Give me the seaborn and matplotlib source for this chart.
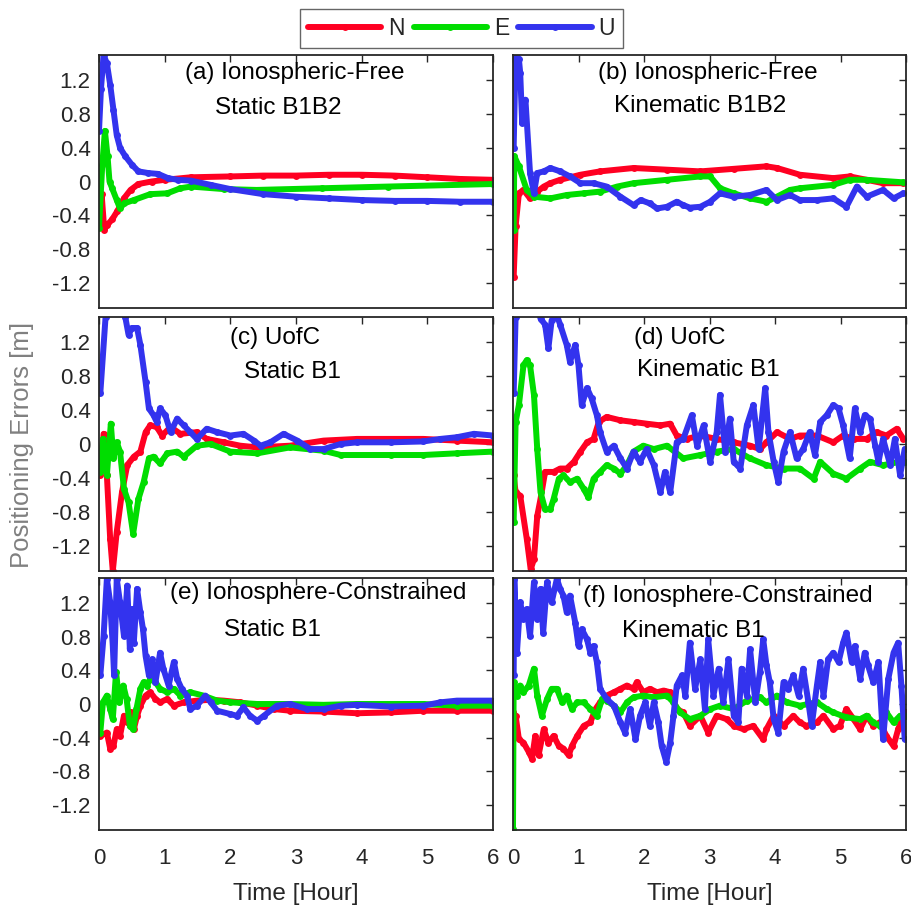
import numpy as np
import pandas as pd
import matplotlib
matplotlib.use("Agg")
import matplotlib.pyplot as plt
from matplotlib.lines import Line2D
import seaborn as sns

# ---------------- data (time in hours, error in metres) ----------------
COMPONENTS = ["N", "E", "U"]
COLORS = {"N": "#FF0022", "E": "#00DD00", "U": "#3333EE"}
X_TICKS = [0, 1, 2, 3, 4, 5, 6]
Y_TICKS = [-1.2, -0.8, -0.4, 0, 0.4, 0.8, 1.2]
Y_TICKLABELS = ["-1.2", "-0.8", "-0.4", "0", "0.4", "0.8", "1.2"]

# (a) Ionospheric-Free Static B1B2
a_t_n = [0, 0.04, 0.08, 0.12, 0.2, 0.28, 0.38, 0.48, 0.6, 0.8, 1.0, 1.4, 2.0, 2.5, 3.0, 3.5, 4.0, 4.5, 5.0, 5.5, 6.0]
a_n = [-0.45, -0.15, -0.57, -0.52, -0.45, -0.35, -0.2, -0.1, -0.03, 0.0, 0.02, 0.05, 0.06, 0.07, 0.07, 0.08, 0.08, 0.07, 0.05, 0.03, 0.02]
a_t_e = [0, 0.05, 0.09, 0.13, 0.16, 0.2, 0.27, 0.32, 0.38, 0.53, 0.78, 1.04, 1.24, 1.4, 1.9, 2.4, 3.4, 4.4, 6.0]
a_e = [-0.55, 0.2, 0.6, 0.3, 0.0, -0.08, -0.22, -0.32, -0.26, -0.22, -0.15, -0.14, -0.08, -0.06, -0.09, -0.1, -0.08, -0.06, -0.03]
a_t_u = [0, 0.03, 0.07, 0.12, 0.17, 0.22, 0.27, 0.32, 0.4, 0.5, 0.6, 0.75, 0.9, 1.05, 1.2, 1.4, 1.7, 2.0, 2.5, 3.0, 3.5, 4.0, 4.5, 5.0, 5.5, 6.0]
a_u = [0.6, 1.1, 1.5, 1.4, 1.15, 0.85, 0.55, 0.40, 0.30, 0.20, 0.12, 0.10, 0.09, 0.04, 0.02, 0.01, -0.04, -0.09, -0.15, -0.18, -0.20, -0.22, -0.23, -0.23, -0.24, -0.24]

# (b) Ionospheric-Free Kinematic B1B2
b_t_n = [0.01, 0.04, 0.09, 0.16, 0.26, 0.37, 0.47, 0.57, 0.72, 1.03, 1.33, 1.84, 2.35, 2.86, 3.37, 3.87, 4.03, 4.38, 4.89, 5.14, 5.40, 5.65, 5.96]
b_n = [-1.13, -0.53, -0.14, -0.10, -0.20, -0.12, -0.06, -0.02, 0.02, 0.08, 0.12, 0.16, 0.14, 0.12, 0.15, 0.18, 0.16, 0.08, 0.04, 0.06, 0.02, -0.02, -0.02]
b_t_e = [0.01, 0.02, 0.09, 0.21, 0.32, 0.57, 0.82, 1.08, 1.33, 1.59, 1.84, 2.35, 2.86, 3.01, 3.16, 3.37, 3.62, 3.87, 4.03, 4.23, 4.38, 4.89, 5.14, 5.40, 5.96]
b_e = [-0.57, 0.30, 0.18, -0.10, -0.18, -0.20, -0.16, -0.14, -0.12, -0.06, -0.02, 0.02, 0.06, 0.06, -0.08, -0.14, -0.20, -0.24, -0.18, -0.10, -0.08, -0.04, 0.02, 0.02, -0.01]
b_t_u = [0.01, 0.04, 0.09, 0.11, 0.14, 0.19, 0.26, 0.32, 0.37, 0.47, 0.57, 0.72, 0.87, 1.03, 1.23, 1.43, 1.64, 1.84, 1.95, 2.09, 2.2, 2.35, 2.5, 2.60, 2.7, 2.86, 3.01, 3.16, 3.37, 3.62, 3.87, 4.03, 4.23, 4.38, 4.64, 4.89, 5.09, 5.25, 5.40, 5.65, 5.81, 5.96]
b_u = [0.40, 1.50, 1.45, 1.29, 0.69, 0.97, 0.10, -0.14, 0.10, 0.12, 0.16, 0.12, 0.06, -0.02, -0.02, -0.06, -0.18, -0.28, -0.22, -0.26, -0.32, -0.30, -0.24, -0.28, -0.31, -0.30, -0.24, -0.14, -0.18, -0.16, -0.10, -0.22, -0.16, -0.22, -0.22, -0.20, -0.30, -0.06, -0.18, -0.10, -0.20, -0.14]

# (c) UofC Static B1
c_t_n = [0.02, 0.07, 0.12, 0.17, 0.21, 0.27, 0.35, 0.43, 0.53, 0.63, 0.71, 0.78, 0.88, 0.96, 1.09, 1.24, 1.49, 1.64, 1.90, 2.15, 2.41, 2.91, 3.42, 3.93, 4.44, 4.94, 5.45, 6.0]
c_n = [-0.37, 0.12, -0.37, -1.12, -1.50, -1.04, -0.57, -0.25, -0.15, -0.09, 0.14, 0.22, 0.20, 0.10, 0.20, 0.12, 0.14, 0.06, 0.02, -0.02, -0.04, -0.02, 0.04, 0.06, 0.06, 0.06, 0.04, 0.02]
c_t_e = [0.02, 0.06, 0.12, 0.18, 0.22, 0.27, 0.32, 0.38, 0.45, 0.52, 0.60, 0.68, 0.76, 0.83, 0.93, 1.04, 1.19, 1.29, 1.49, 1.70, 2.00, 2.41, 2.91, 3.42, 3.68, 4.44, 4.94, 5.45, 6.0]
c_e = [-0.33, 0.06, -0.37, 0.24, -0.17, 0.02, -0.09, -0.53, -0.69, -1.06, -0.65, -0.45, -0.17, -0.15, -0.23, -0.11, -0.09, -0.15, -0.02, 0.00, -0.09, -0.11, -0.04, -0.08, -0.13, -0.13, -0.13, -0.11, -0.09]
c_t_u = [0.02, 0.10, 0.17, 0.27, 0.38, 0.40, 0.45, 0.50, 0.58, 0.63, 0.71, 0.76, 0.83, 0.88, 0.93, 1.01, 1.09, 1.19, 1.29, 1.39, 1.49, 1.64, 1.80, 2.00, 2.20, 2.36, 2.46, 2.61, 2.81, 3.02, 3.22, 3.42, 3.68, 3.93, 4.44, 4.94, 5.20, 5.45, 5.71, 6.0]
c_u = [0.60, 1.50, 2.0, 2.0, 1.6, 1.50, 1.29, 1.37, 1.37, 1.17, 0.73, 0.42, 0.34, 0.26, 0.42, 0.34, 0.14, 0.30, 0.22, 0.14, 0.06, 0.18, 0.14, 0.10, 0.12, 0.04, -0.02, 0.02, 0.12, 0.04, -0.06, -0.06, 0.00, 0.02, 0.02, 0.03, 0.06, 0.08, 0.12, 0.10]

# (d) UofC Kinematic B1
d_t_n = [0.01, 0.04, 0.11, 0.21, 0.27, 0.32, 0.37, 0.42, 0.49, 0.62, 0.72, 0.82, 0.93, 1.03, 1.13, 1.23, 1.31, 1.43, 1.64, 1.84, 2.04, 2.25, 2.40, 2.50, 2.65, 2.86, 3.11, 3.37, 3.62, 3.77, 3.87, 4.03, 4.23, 4.38, 4.64, 4.89, 5.04, 5.20, 5.40, 5.55, 5.70, 5.86, 5.96]
d_n = [-0.37, -0.57, -0.61, -1.12, -1.48, -1.36, -0.85, -0.65, -0.33, -0.33, -0.29, -0.29, -0.21, -0.09, 0.02, 0.06, 0.26, 0.32, 0.28, 0.26, 0.24, 0.22, 0.24, 0.10, 0.06, 0.10, 0.06, 0.02, -0.02, -0.06, 0.02, 0.14, 0.06, 0.10, 0.10, 0.02, 0.10, 0.06, 0.06, 0.14, 0.10, 0.18, 0.06]
d_t_e = [0.01, 0.04, 0.09, 0.16, 0.21, 0.26, 0.32, 0.37, 0.42, 0.49, 0.57, 0.62, 0.70, 0.77, 0.87, 0.98, 1.08, 1.15, 1.23, 1.33, 1.43, 1.54, 1.64, 1.74, 1.84, 1.99, 2.15, 2.35, 2.60, 2.86, 3.11, 3.37, 3.62, 3.87, 4.13, 4.38, 4.59, 4.69, 4.89, 5.09, 5.30, 5.45, 5.65, 5.91, 5.98]
d_e = [-0.92, 0.26, 0.46, 0.93, 0.99, 0.93, 0.58, -0.06, -0.57, -0.77, -0.77, -0.65, -0.41, -0.37, -0.45, -0.41, -0.53, -0.63, -0.41, -0.33, -0.25, -0.29, -0.35, -0.25, -0.09, -0.02, -0.06, -0.02, -0.17, -0.13, -0.09, -0.06, -0.17, -0.25, -0.29, -0.29, -0.41, -0.21, -0.35, -0.41, -0.29, -0.21, -0.25, -0.21, -0.21]
d_t_u = [0.01, 0.04, 0.16, 0.32, 0.42, 0.49, 0.54, 0.59, 0.67, 0.72, 0.82, 0.87, 0.95, 1.00, 1.05, 1.13, 1.20, 1.28, 1.33, 1.43, 1.54, 1.64, 1.74, 1.84, 1.94, 2.04, 2.15, 2.25, 2.32, 2.40, 2.50, 2.60, 2.73, 2.81, 2.91, 3.01, 3.11, 3.16, 3.24, 3.31, 3.37, 3.47, 3.57, 3.67, 3.75, 3.85, 3.90, 3.98, 4.05, 4.13, 4.23, 4.33, 4.43, 4.53, 4.61, 4.69, 4.79, 4.89, 4.97, 5.04, 5.14, 5.22, 5.30, 5.37, 5.45, 5.53, 5.58, 5.65, 5.76, 5.83, 5.91, 5.98]
d_u = [0.60, 1.50, 2.0, 1.9, 1.48, 1.41, 1.13, 1.46, 1.52, 1.41, 1.17, 0.97, 1.17, 0.93, 0.46, 0.66, 0.54, 0.34, 0.14, -0.09, -0.02, -0.17, -0.29, -0.09, -0.21, -0.06, -0.25, -0.57, -0.33, -0.57, 0.02, 0.06, 0.34, -0.02, 0.22, -0.21, 0.14, 0.58, -0.09, 0.30, -0.21, -0.29, 0.22, 0.46, -0.06, 0.66, 0.14, -0.21, -0.45, -0.09, 0.14, -0.17, -0.06, 0.14, -0.13, 0.26, 0.34, 0.46, 0.42, 0.22, -0.17, 0.42, 0.14, 0.34, 0.30, -0.02, -0.21, 0.06, -0.25, 0.06, -0.37, -0.06]

# (e) Ionosphere-Constrained Static B1
e_t_n = [0.02, 0.12, 0.17, 0.22, 0.27, 0.32, 0.38, 0.43, 0.48, 0.53, 0.58, 0.63, 0.71, 0.78, 0.86, 0.93, 1.04, 1.14, 1.29, 1.49, 1.70, 1.90, 2.15, 2.41, 2.66, 2.91, 3.42, 3.93, 4.44, 4.94, 5.45, 6.0]
e_n = [-0.38, -0.34, -0.53, -0.50, -0.30, -0.38, -0.14, -0.22, -0.10, -0.30, -0.14, -0.02, 0.10, 0.14, 0.06, 0.02, 0.06, -0.02, 0.02, 0.04, 0.05, 0.04, 0.02, -0.02, -0.06, -0.08, -0.09, -0.11, -0.10, -0.08, -0.08, -0.08]
e_t_e = [0.02, 0.06, 0.12, 0.17, 0.21, 0.26, 0.31, 0.37, 0.42, 0.47, 0.52, 0.57, 0.63, 0.68, 0.73, 0.78, 0.86, 0.93, 1.04, 1.14, 1.24, 1.39, 1.59, 1.80, 2.00, 2.41, 2.91, 3.42, 3.93, 4.94, 5.45, 6.0]
e_e = [-0.34, 0.02, 0.10, -0.06, -0.18, 0.38, 0.02, 0.22, 0.06, -0.26, -0.30, -0.06, 0.18, 0.26, 0.22, 0.30, 0.26, 0.18, 0.14, 0.18, 0.10, 0.14, 0.10, 0.04, 0.02, 0.00, 0.00, -0.01, 0.00, 0.00, -0.02, -0.02]
e_t_u = [0.02, 0.07, 0.12, 0.17, 0.21, 0.23, 0.27, 0.32, 0.38, 0.43, 0.47, 0.50, 0.53, 0.58, 0.63, 0.67, 0.71, 0.76, 0.81, 0.86, 0.93, 0.98, 1.06, 1.14, 1.19, 1.26, 1.34, 1.39, 1.49, 1.62, 1.70, 1.80, 2.00, 2.10, 2.20, 2.30, 2.41, 2.51, 2.71, 2.91, 3.17, 3.42, 3.68, 3.93, 4.44, 4.94, 5.20, 5.45, 6.0]
e_u = [0.34, 0.81, 1.49, 1.21, 0.69, 0.34, 1.49, 1.21, 0.81, 1.41, 0.65, 1.13, 0.73, 1.37, 1.09, 0.89, 0.57, 0.34, 0.53, 0.26, 0.61, 0.42, 0.22, 0.50, 0.30, 0.18, 0.10, -0.06, -0.02, 0.10, 0.02, -0.08, -0.12, -0.14, -0.04, -0.14, -0.20, -0.14, -0.02, 0.00, -0.06, -0.06, -0.02, -0.01, -0.03, -0.02, 0.02, 0.04, 0.04]

# (f) Ionosphere-Constrained Kinematic B1
f_t_n = [0.0, 0.04, 0.09, 0.16, 0.24, 0.29, 0.34, 0.39, 0.47, 0.54, 0.62, 0.70, 0.77, 0.85, 0.90, 0.98, 1.08, 1.18, 1.26, 1.33, 1.43, 1.54, 1.64, 1.74, 1.84, 1.89, 1.99, 2.09, 2.20, 2.30, 2.40, 2.50, 2.60, 2.70, 2.86, 2.98, 3.11, 3.26, 3.37, 3.52, 3.67, 3.82, 3.87, 3.98, 4.13, 4.28, 4.38, 4.48, 4.64, 4.74, 4.89, 4.99, 5.09, 5.20, 5.30, 5.40, 5.50, 5.60, 5.70, 5.81, 5.88, 5.96, 6.0]
f_n = [-0.10, -0.14, -0.42, -0.46, -0.57, -0.65, -0.38, -0.61, -0.30, -0.46, -0.38, -0.50, -0.53, -0.61, -0.50, -0.38, -0.26, -0.22, -0.06, 0.02, 0.10, 0.14, 0.18, 0.22, 0.18, 0.26, 0.14, 0.18, 0.14, 0.16, 0.14, -0.06, -0.10, -0.26, -0.14, -0.34, -0.14, -0.18, -0.26, -0.30, -0.26, -0.42, -0.30, -0.14, -0.26, -0.14, -0.22, -0.26, -0.22, -0.14, -0.30, -0.26, -0.06, -0.18, -0.30, -0.14, -0.26, -0.22, -0.38, -0.50, -0.30, -0.14, -0.10]
f_t_e = [0.0, 0.01, 0.06, 0.11, 0.16, 0.24, 0.32, 0.37, 0.44, 0.52, 0.59, 0.67, 0.75, 0.82, 0.90, 0.98, 1.08, 1.18, 1.28, 1.36, 1.43, 1.54, 1.64, 1.74, 1.84, 1.99, 2.15, 2.35, 2.45, 2.55, 2.70, 2.86, 3.01, 3.16, 3.37, 3.57, 3.77, 3.87, 4.03, 4.18, 4.38, 4.64, 4.79, 4.89, 5.09, 5.30, 5.40, 5.50, 5.60, 5.70, 5.81, 5.91, 6.0]
f_e = [-1.49, 0.26, 0.10, 0.22, 0.14, 0.22, 0.42, 0.10, -0.14, 0.06, 0.18, 0.18, 0.02, 0.10, -0.06, 0.02, 0.02, -0.06, -0.14, 0.06, 0.04, -0.02, -0.10, 0.02, 0.08, 0.10, 0.08, 0.10, 0.02, -0.10, -0.18, -0.14, -0.06, -0.02, -0.06, 0.04, 0.08, 0.02, 0.10, 0.02, -0.02, 0.02, -0.06, -0.10, -0.16, -0.18, -0.14, -0.22, -0.26, -0.10, -0.22, -0.14, -0.14]
f_t_u = [0.01, 0.02, 0.06, 0.11, 0.16, 0.21, 0.26, 0.32, 0.37, 0.42, 0.46, 0.52, 0.59, 0.67, 0.72, 0.77, 0.82, 0.87, 0.95, 1.00, 1.05, 1.13, 1.18, 1.23, 1.28, 1.33, 1.43, 1.54, 1.64, 1.71, 1.79, 1.87, 1.94, 2.02, 2.09, 2.15, 2.22, 2.27, 2.34, 2.40, 2.45, 2.50, 2.58, 2.63, 2.70, 2.78, 2.86, 2.93, 2.98, 3.06, 3.14, 3.21, 3.29, 3.37, 3.44, 3.49, 3.57, 3.62, 3.70, 3.77, 3.82, 3.87, 3.92, 3.98, 4.05, 4.13, 4.20, 4.28, 4.36, 4.43, 4.51, 4.56, 4.64, 4.69, 4.74, 4.81, 4.89, 4.97, 5.04, 5.09, 5.17, 5.22, 5.30, 5.37, 5.42, 5.50, 5.58, 5.65, 5.73, 5.81, 5.88, 5.93, 5.98]
f_u = [0.34, 1.49, 0.61, 1.21, 1.01, 1.13, 0.81, 1.45, 1.01, 1.37, 0.85, 1.45, 1.21, 1.49, 1.37, 1.29, 1.09, 1.29, 0.97, 0.69, 0.89, 0.77, 0.61, 0.69, 0.50, 0.18, 0.06, -0.02, -0.22, -0.34, -0.06, -0.42, -0.14, 0.02, -0.26, 0.02, -0.22, -0.50, -0.69, -0.46, -0.14, 0.22, 0.34, 0.10, 0.73, 0.18, 0.53, -0.06, 0.77, 0.10, 0.42, 0.02, 0.53, -0.14, -0.22, 0.42, 0.10, 0.65, 0.02, 0.38, 0.77, 0.46, 0.26, -0.18, -0.34, 0.26, 0.18, 0.34, 0.10, 0.42, 0.02, -0.26, 0.22, 0.50, 0.10, 0.53, 0.61, 0.50, 0.73, 0.85, 0.50, 0.69, 0.30, 0.61, 0.46, 0.26, 0.50, -0.42, 0.30, 0.61, 0.73, 0.22, -0.42]

PANEL_TITLES = [
    ("(a) Ionospheric-Free", "Static B1B2"),
    ("(b) Ionospheric-Free", "Kinematic B1B2"),
    ("(c) UofC", "Static B1"),
    ("(d) UofC", "Kinematic B1"),
    ("(e) Ionosphere-Constrained", "Static B1"),
    ("(f) Ionosphere-Constrained", "Kinematic B1"),
]

# ---------------- tidy table ----------------
series = {
    "a": [(a_t_n, a_n), (a_t_e, a_e), (a_t_u, a_u)],
    "b": [(b_t_n, b_n), (b_t_e, b_e), (b_t_u, b_u)],
    "c": [(c_t_n, c_n), (c_t_e, c_e), (c_t_u, c_u)],
    "d": [(d_t_n, d_n), (d_t_e, d_e), (d_t_u, d_u)],
    "e": [(e_t_n, e_n), (e_t_e, e_e), (e_t_u, e_u)],
    "f": [(f_t_n, f_n), (f_t_e, f_e), (f_t_u, f_u)],
}
frames = []
for p, lst in series.items():
    for comp, (t, v) in zip(COMPONENTS, lst):
        frames.append(pd.DataFrame({"panel": p, "comp": comp, "t": t, "v": v}))
df = pd.concat(frames, ignore_index=True)

# ---------------- figure ----------------
sns.set_theme(style="white")
plt.rcParams["font.family"] = ["Liberation Sans", "DejaVu Sans"]
TXT = "#262626"
LW = 4.3
MS = 5.0

fig = plt.figure(figsize=(9.11, 9.07), dpi=100)

col_x = [99 / 911, 513 / 911]
col_w = [394 / 911, 393 / 911]
row_b = [1 - 308 / 907, 1 - 571 / 907, 1 - 830 / 907]
row_h = [253 / 907, 254 / 907, 252 / 907]

title_pos = [
    ((0.497, 0.929), (0.454, 0.79)),
    ((0.496, 0.929), (0.476, 0.80)),
    ((0.447, 0.917), (0.49, 0.783)),
    ((0.425, 0.917), (0.496, 0.79)),
    ((0.556, 0.94), (0.44, 0.794)),
    ((0.547, 0.93), (0.458, 0.79)),
]

axes = []
for i, p in enumerate("abcdef"):
    r, c = divmod(i, 2)
    ax = fig.add_axes([col_x[c], row_b[r], col_w[c], row_h[r]])
    axes.append(ax)
    sub = df[df.panel == p]
    sns.lineplot(data=sub, x="t", y="v", hue="comp", hue_order=COMPONENTS,
                 palette=COLORS, estimator=None, sort=False, linewidth=LW,
                 marker="o", markersize=MS, markeredgewidth=0,
                 solid_joinstyle="round", solid_capstyle="round",
                 legend=False, ax=ax)
    ax.set_xlim(0, 6)
    ax.set_ylim(-1.5, 1.5)
    ax.set_xticks(X_TICKS)
    ax.set_yticks(Y_TICKS)
    ax.tick_params(direction="in", top=True, right=True, length=5, width=1.0,
                   colors=TXT, labelsize=16)
    ax.tick_params(axis="x", pad=13)
    ax.tick_params(axis="y", pad=6)
    if c == 0:
        ax.set_yticklabels(Y_TICKLABELS)
    else:
        ax.set_yticklabels([])
    if r == 2:
        ax.set_xticklabels([str(x) for x in X_TICKS])
        ax.set_xlabel("Time [Hour]", fontsize=17.5, color=TXT, labelpad=10)
    else:
        ax.set_xticklabels([])
        ax.set_xlabel("")
    ax.set_ylabel("")
    for s in ax.spines.values():
        s.set_linewidth(1.3)
        s.set_color(TXT)
    (p1, p2) = title_pos[i]
    l1, l2 = PANEL_TITLES[i]
    ax.text(p1[0], p1[1], l1, transform=ax.transAxes, ha="center", va="center",
            fontsize=17.5, color="black")
    ax.text(p2[0], p2[1], l2, transform=ax.transAxes, ha="center", va="center",
            fontsize=17.5, color="black")

fig.text(0.024, 0.509, "Positioning Errors [m]", rotation=90, ha="center",
         va="center", fontsize=18.5, color="#808080")

handles = [Line2D([0, 0.5, 1], [0, 0, 0], color=COLORS[k], lw=LW, marker="o",
                  markersize=MS, markeredgewidth=0, markevery=[1]) for k in COMPONENTS]
leg = fig.legend(handles, COMPONENTS, loc="center", bbox_to_anchor=(0.5066, 0.9686),
                 ncol=3, handlelength=3.2, columnspacing=0.4, handletextpad=0.3,
                 frameon=True, fancybox=False, fontsize=16.5, borderpad=0.35)
leg.get_frame().set_edgecolor("#404040")
leg.get_frame().set_linewidth(1.0)

fig.savefig("out.png", dpi=100)
